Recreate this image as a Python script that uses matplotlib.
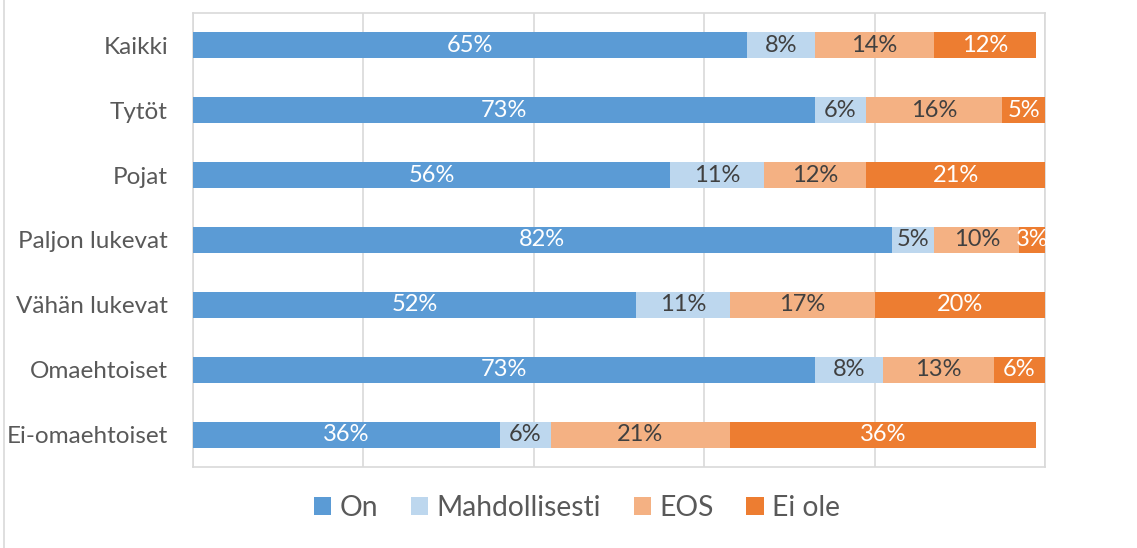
import matplotlib
matplotlib.use("Agg")
import matplotlib.pyplot as plt
from matplotlib.lines import Line2D
import numpy as np

categories = ["Kaikki", "Tytöt", "Pojat", "Paljon lukevat", "Vähän lukevat", "Omaehtoiset", "Ei-omaehtoiset"]
series_names = ["On", "Mahdollisesti", "EOS", "Ei ole"]
on = [65, 73, 56, 82, 52, 73, 36]
mahdollisesti = [8, 6, 11, 5, 11, 8, 6]
eos = [14, 16, 12, 10, 17, 13, 21]
ei_ole = [12, 5, 21, 3, 20, 6, 36]

colors = ["#5B9BD5", "#BDD7EE", "#F4B183", "#ED7D31"]
text_colors = ["white", "#404040", "#404040", "white"]

plt.rcParams['font.family'] = ['Lato', 'DejaVu Sans']

W, H = 1137, 548
fig = plt.figure(figsize=(W/100, H/100), dpi=100)
ax = fig.add_axes([193/W, 1 - 467/H, (1045-193)/W, (467-13)/H])

y = np.arange(len(categories))
left = np.zeros(len(categories))
for vals, name, c, tc in zip([on, mahdollisesti, eos, ei_ole], series_names, colors, text_colors):
    vals = np.array(vals, dtype=float)
    ax.barh(y, vals, left=left, height=0.4, color=c, label=name, zorder=3)
    for yi, l, v in zip(y, left, vals):
        ax.text(l + v/2, yi, f"{int(v)}%", ha="center", va="center", color=tc, fontsize=17, zorder=4)
    left += vals

ax.set_xlim(0, 100)
ax.set_ylim(len(categories) - 0.5, -0.5)
ax.set_yticks(y)
ax.set_yticklabels(categories, fontsize=17.5, color="#595959")
ax.set_xticks([0, 20, 40, 60, 80, 100])
ax.set_xticklabels([])
ax.tick_params(axis="both", length=0)
ax.tick_params(axis="y", pad=18)
ax.grid(axis="x", color="#D9D9D9", linewidth=1.2, zorder=0)
for s in ax.spines.values():
    s.set_color("#D9D9D9")
    s.set_linewidth(1.2)

fig.legend(loc="center", bbox_to_anchor=(577/W, 1 - 508/H), ncol=4, frameon=False,
           fontsize=20.3, handlelength=0.62, handleheight=0.62, handletextpad=0.3, columnspacing=1.15,
           labelcolor="#595959")

fig.add_artist(Line2D([4/W, 4/W], [0, 1], transform=fig.transFigure, color="#D9D9D9", linewidth=1.2))

fig.savefig("out.png", dpi=100)
